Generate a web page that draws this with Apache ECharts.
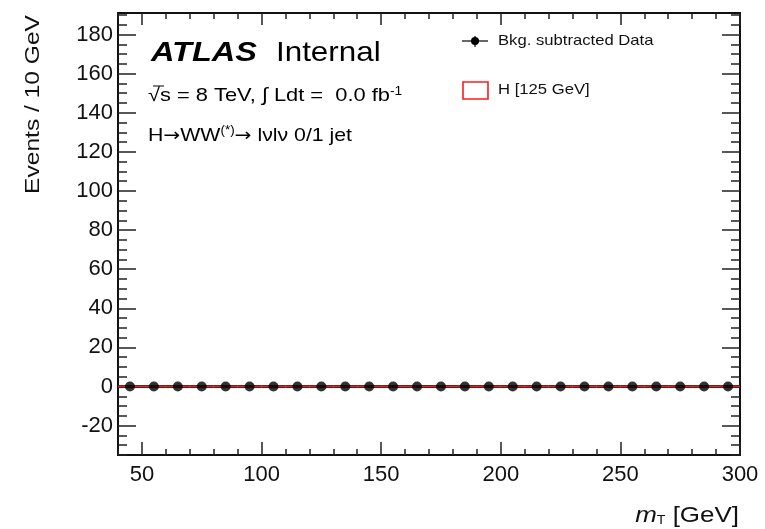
<!DOCTYPE html>
<html><head><meta charset="utf-8">
<script src="https://cdn.jsdelivr.net/npm/echarts@6/dist/echarts.min.js"></script>
<style>html,body{margin:0;padding:0;background:#fff}#c{width:765px;height:529px}</style>
</head><body><div id="c"></div>
<script>
// ---- data ----
const binCenters = [45,55,65,75,85,95,105,115,125,135,145,155,165,175,185,195,205,215,225,235,245,255,265,275,285,295];
const binEdges = [40,50,60,70,80,90,100,110,120,130,140,150,160,170,180,190,200,210,220,230,240,250,260,270,280,290,300];
const dataValues = [0,0,0,0,0,0,0,0,0,0,0,0,0,0,0,0,0,0,0,0,0,0,0,0,0,0];
const higgsValues = [0,0,0,0,0,0,0,0,0,0,0,0,0,0,0,0,0,0,0,0,0,0,0,0,0,0];
const binHalfWidth = 5;
const xMajorTicks = [50,100,150,200,250,300];
const xMinorTicks = [40,50,60,70,80,90,100,110,120,130,140,150,160,170,180,190,200,210,220,230,240,250,260,270,280,290,300];
const yMajorTicks = [-20,0,20,40,60,80,100,120,140,160,180];
const yMinorTicks = [-35,-30,-25,-20,-15,-10,-5,0,5,10,15,20,25,30,35,40,45,50,55,60,65,70,75,80,85,90,95,100,105,110,115,120,125,130,135,140,145,150,155,160,165,170,175,180,185,190];
const xRange = [40, 300];
const yRange = [-35, 191];

const FONT = '"Liberation Sans", Arial, sans-serif';
const ARROWFONT = '"DejaVu Sans", sans-serif';
const chart = echarts.init(document.getElementById('c'), null, {renderer:'canvas'});

function xAx(pos, ticks, len, labels){
  return {type:'value', min:xRange[0], max:xRange[1], position:pos,
    axisLine:{show:true, onZero:false, lineStyle:{color:'#111', width:2}},
    axisTick:{show:true, inside:true, length:len, customValues:ticks, lineStyle:{color:'#222', width:1.5}},
    axisLabel:{show:labels, customValues:ticks, fontFamily:FONT, fontSize:22, color:'#111', margin:9},
    splitLine:{show:false}, minorTick:{show:false}};
}
function yAx(pos, ticks, len, labels){
  return {type:'value', min:yRange[0], max:yRange[1], position:pos,
    axisLine:{show:true, onZero:false, lineStyle:{color:'#111', width:2}},
    axisTick:{show:true, inside:true, length:len, customValues:ticks, lineStyle:{color:'#222', width:1.5}},
    axisLabel:{show:labels, customValues:ticks, fontFamily:FONT, fontSize:22, color:'#111', margin:5},
    splitLine:{show:false}, minorTick:{show:false}};
}

const pts = binCenters.map((c,i)=>[c, dataValues[i]]);
const histPts = binEdges.map((e,i)=>[e, higgsValues[Math.min(i, higgsValues.length-1)]]);

const option = {
  animation:false,
  grid:{left:118, top:13, width:622, height:442, containLabel:false},
  xAxis:[xAx('bottom', xMajorTicks, 13, true), xAx('bottom', xMinorTicks, 6, false),
         xAx('top', xMajorTicks, 12, false), xAx('top', xMinorTicks, 6, false)],
  yAxis:[yAx('left', yMajorTicks, 18, true), yAx('left', yMinorTicks, 9, false),
         yAx('right', yMajorTicks, 18, false), yAx('right', yMinorTicks, 9, false)],
  series:[
    {type:'custom', xAxisIndex:0, yAxisIndex:0, z:2, data:pts,
     renderItem:function(params, api){
       const x = api.value(0), y = api.value(1);
       const a = api.coord([x-binHalfWidth, y]), b = api.coord([x+binHalfWidth, y]);
       return {type:'line', shape:{x1:a[0], y1:a[1], x2:b[0], y2:b[1]}, style:{stroke:'#222', lineWidth:3}};
     }},
    {type:'line', xAxisIndex:0, yAxisIndex:0, z:3, step:'end', data:histPts, symbol:'none',
     lineStyle:{color:'#e8201c', width:1.6}},
    {type:'scatter', xAxisIndex:0, yAxisIndex:0, z:4, data:pts, symbol:'circle', symbolSize:10,
     itemStyle:{color:'#000'}}
  ],
  graphic:[
    {type:'text', x:151, y:53, scaleX:1.16, style:{text:'ATLAS', font:'italic bold 28px '+FONT, fill:'#000', textVerticalAlign:'middle'}},
    {type:'text', x:276, y:53, scaleX:1.12, style:{text:'Internal', font:'28px '+FONT, fill:'#000', textVerticalAlign:'middle'}},
    {type:'line', shape:{x1:153, y1:86, x2:164, y2:86}, style:{stroke:'#000', lineWidth:1}},
    {type:'text', x:148, y:96, scaleX:1.15, style:{
      text:'{a|√s = 8 TeV, ∫ Ldt =  0.0 fb}{s|-1}',
      rich:{a:{fontFamily:FONT, fontSize:19, fill:'#000'}, s:{fontFamily:FONT, fontSize:12, fill:'#000', padding:[0,0,9,0]}},
      textVerticalAlign:'middle'}},
    {type:'text', x:148, y:136, scaleX:1.12, style:{
      text:'{a|H}{r|→}{a|WW}{s|(*)}{r|→}{a| lνlν 0/1 jet}',
      rich:{a:{fontFamily:FONT, fontSize:19, fill:'#000'}, r:{fontFamily:ARROWFONT, fontSize:18, fill:'#000'},
            s:{fontFamily:FONT, fontSize:12, fill:'#000', padding:[0,0,11,0]}},
      textVerticalAlign:'middle'}},
    // legend
    {type:'line', shape:{x1:462, y1:41, x2:488, y2:41}, style:{stroke:'#000', lineWidth:1.2}},
    {type:'line', shape:{x1:475, y1:36, x2:475, y2:47}, style:{stroke:'#000', lineWidth:1.2}},
    {type:'circle', shape:{cx:475, cy:41, r:4}, style:{fill:'#000'}},
    {type:'text', x:498, y:41, scaleX:1.11, style:{text:'Bkg. subtracted Data', font:'15px '+FONT, fill:'#111', textVerticalAlign:'middle'}},
    {type:'rect', shape:{x:463, y:82, width:25, height:17}, style:{fill:'none', stroke:'#ff1a1a', lineWidth:1.6}},
    {type:'text', x:498, y:90, scaleX:1.11, style:{text:'H [125 GeV]', font:'15px '+FONT, fill:'#111', textVerticalAlign:'middle'}},
    // axis titles
    {type:'text', x:33, y:15, rotation:Math.PI/2, scaleX:1.17, style:{text:'Events / 10 GeV', font:'21px '+FONT, fill:'#111', textAlign:'right', textVerticalAlign:'middle'}},
    {type:'text', x:739, y:516, scaleX:1.18, style:{
      text:'{m|m}{t|T}{a| [GeV]}',
      rich:{m:{fontFamily:FONT, fontStyle:'italic', fontSize:22, fill:'#111'}, t:{fontFamily:FONT, fontSize:12, fill:'#111', padding:[9,0,0,0]}, a:{fontFamily:FONT, fontSize:22, fill:'#111'}},
      textAlign:'right', textVerticalAlign:'middle'}}
  ]
};
chart.setOption(option);
</script></body></html>
